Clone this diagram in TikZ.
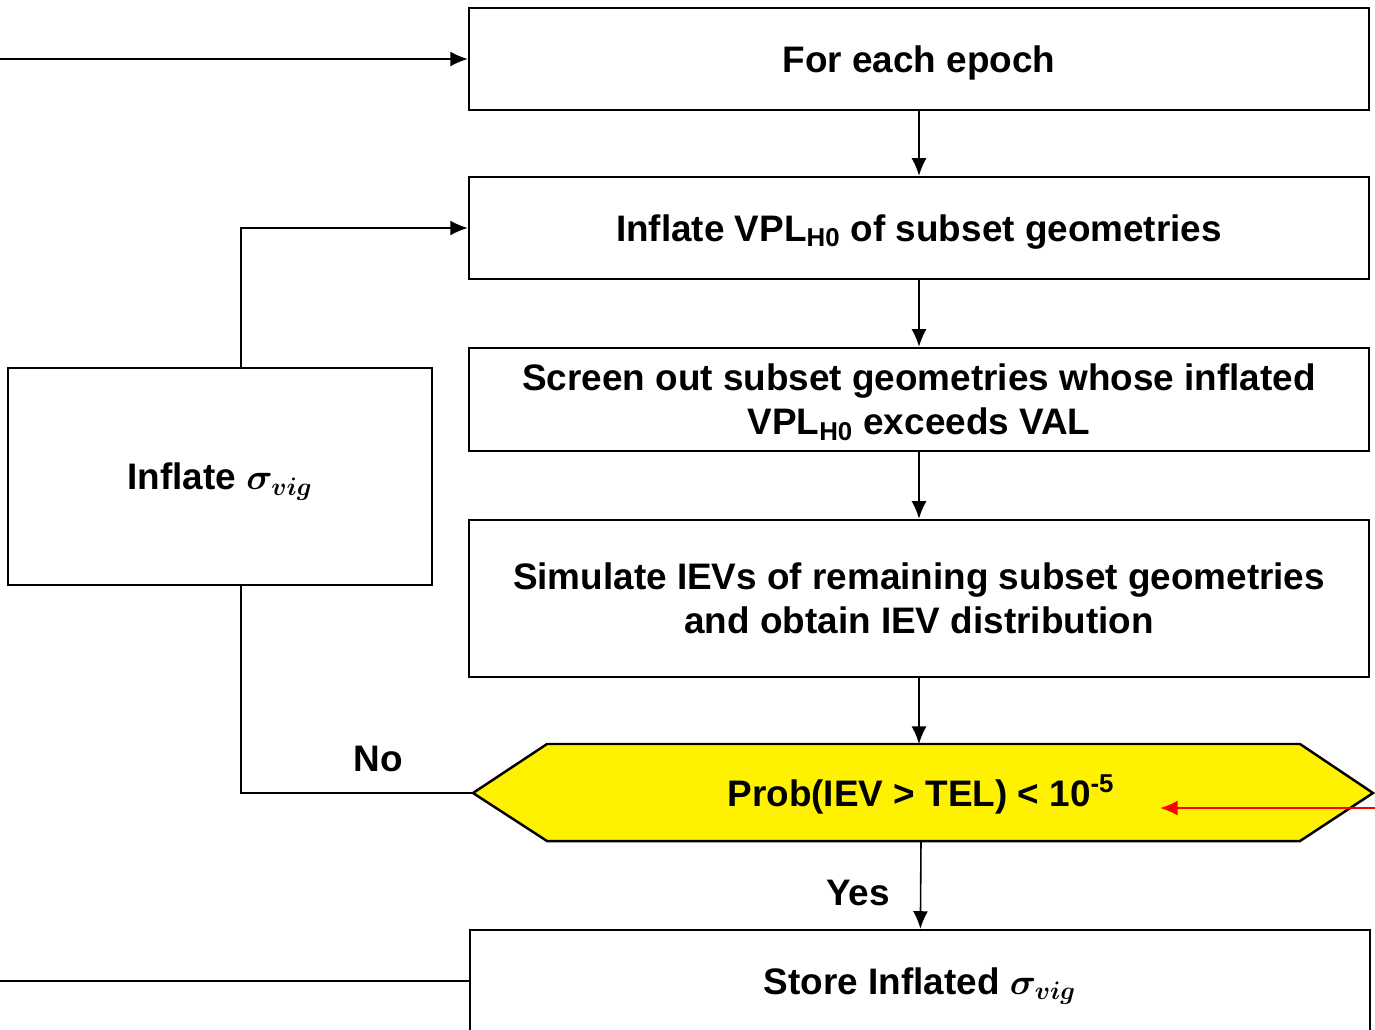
\documentclass[tikz,border=0pt]{standalone}
\usepackage{fontspec}
\setmainfont{Liberation Sans}
\usepackage{bm}
\usetikzlibrary{arrows.meta}

\begin{document}
\begin{tikzpicture}[x=0.02cm, y=-0.02cm, >={Latex[length=10pt,width=8.5pt]},
    font=\fontsize{21}{25}\selectfont\bfseries,
    box/.style={draw, line width=1.4pt, minimum width=18cm, minimum height=2.04cm, align=center, inner sep=0pt},
    oneline/.style={text height=15pt, text depth=0pt},
    flow/.style={->, line width=0.9pt},
    wire/.style={line width=0.9pt}]
    \useasboundingbox (0,0) rectangle (1375,1029);
    % main column
    \node[box, oneline] (epoch) at (919,59) {For each epoch};
    \node[box, oneline] (vpl) at (919,228) {Inflate VPL\textsubscript{H0} of subset geometries};
    \node[box, minimum height=2.06cm, text depth=0pt] (screen) at (919,399.5) {Screen out subset geometries whose inflated\\VPL\textsubscript{H0} exceeds VAL};
    \node[box, minimum height=3.14cm] (sim) at (919,598.5) {Simulate IEVs of remaining subset geometries\\and obtain IEV distribution};
    % decision
    \coordinate (hexL) at (473,793);
    \coordinate (hexR) at (1373,793);
    \coordinate (hexT) at (919,744);
    \draw[line width=1.4pt, fill=yellow] (hexL) -- (547,744) -- (1300,744) -- (hexR) -- (1300,841) -- (547,841) -- cycle;
    \node[oneline, minimum width=17cm, minimum height=1.94cm, inner sep=0pt] (test) at (921,793) {Prob(IEV > TEL) < 10\textsuperscript{-5}};
    \node[box, oneline] (store) at (920,981) {Store Inflated $\bm{\sigma}_{\bm{vig}}$};
    % loop back
    \node[draw, oneline, line width=1.4pt, minimum width=8.48cm, minimum height=4.34cm] (sigma) at (220,476.5) {Inflate $\bm{\sigma}_{\bm{vig}}$};
    \coordinate (in) at (0,59);
    \coordinate (out) at (0,981);
    \coordinate (redR) at (1375,808);
    \coordinate (redL) at (1160,808);
    \draw[flow] (in) -- (epoch);
    \draw[flow] (epoch) -- (vpl);
    \draw[flow] (vpl) -- (screen);
    \draw[flow] (screen) -- (sim);
    \draw[flow] (sim) -- (hexT);
    \draw[flow] (921,841) -- (store);
    \draw[flow] ([xshift=0.42cm]sigma.north) |- (vpl);
    \draw[wire] (hexL) -| ([xshift=0.42cm]sigma.south);
    \draw[wire] (store) -- (out);
    \draw[->, red, line width=1.1pt] (redR) -- (redL);
    \node (no) at (378,759) {No};
    \node (yes) at (858,893) {Yes};
\end{tikzpicture}
\end{document}
